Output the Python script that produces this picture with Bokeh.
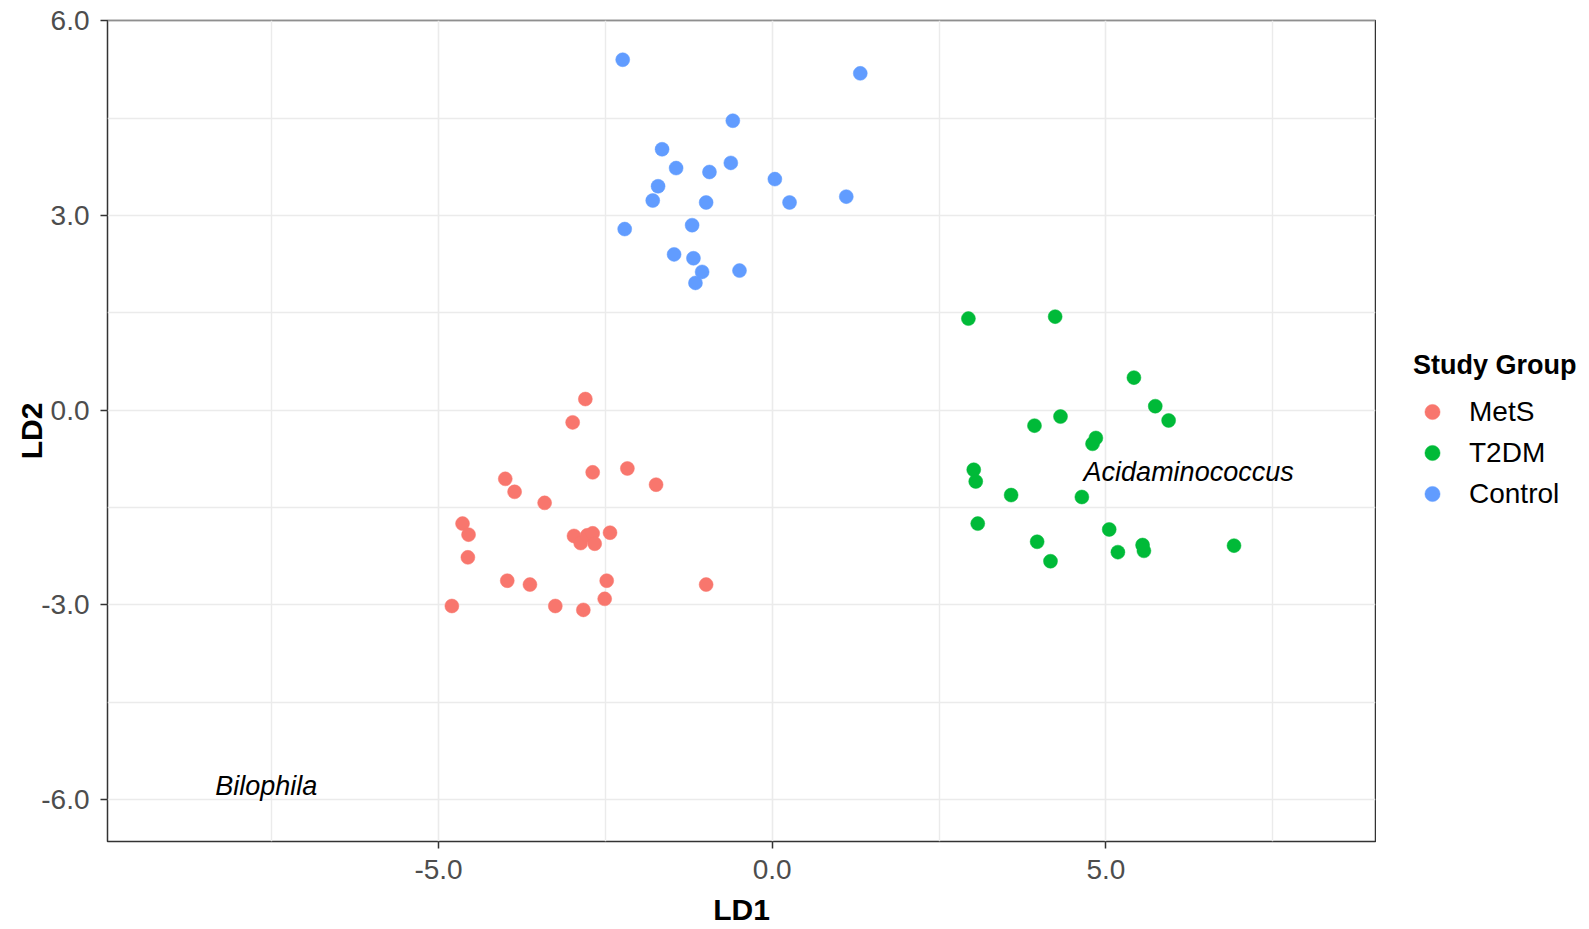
from bokeh.plotting import figure
from bokeh.layouts import row
from bokeh.models import (ColumnDataSource, Range1d, FixedTicker, PrintfTickFormatter,
                          Legend, LegendItem)
from bokeh.core.properties import value
from bokeh.embed import file_html
from bokeh.resources import INLINE

# ---------------- data ----------------
groups = ["MetS", "T2DM", "Control"]
group_colors = ["#F8766D", "#00BA38", "#619CFF"]

mets_ld1 = [-2.80, -2.99, -2.69, -2.17, -1.74, -4.00, -3.86, -3.41, -4.64, -4.55, -4.56,
            -2.97, -2.87, -2.77, -2.69, -2.66, -2.43, -3.97, -3.63, -2.48, -2.51, -0.99,
            -4.80, -3.25, -2.83]
mets_ld2 = [0.17, -0.19, -0.96, -0.90, -1.15, -1.06, -1.26, -1.43, -1.75, -1.92, -2.27,
            -1.94, -2.05, -1.93, -1.90, -2.06, -1.89, -2.63, -2.69, -2.63, -2.91, -2.69,
            -3.02, -3.02, -3.08]

t2dm_ld1 = [2.94, 4.24, 5.42, 5.74, 5.94, 3.93, 4.32, 4.85, 4.80, 3.02, 3.05, 3.58, 4.64,
            3.08, 3.97, 4.17, 5.05, 5.18, 5.55, 5.57, 6.92]
t2dm_ld2 = [1.41, 1.44, 0.50, 0.06, -0.16, -0.24, -0.10, -0.43, -0.52, -0.92, -1.10, -1.31,
            -1.34, -1.75, -2.03, -2.33, -1.84, -2.19, -2.08, -2.17, -2.09]

control_ld1 = [-2.24, 1.32, -0.59, -1.65, -1.44, -0.94, -0.62, -1.71, -1.79, -0.99, 0.04,
               0.26, 1.11, -2.21, -1.20, -1.47, -1.18, -1.05, -1.15, -0.49]
control_ld2 = [5.40, 5.19, 4.46, 4.02, 3.73, 3.67, 3.81, 3.45, 3.23, 3.20, 3.56, 3.20, 3.29,
               2.79, 2.85, 2.40, 2.34, 2.13, 1.96, 2.15]

taxa_labels = ["Bilophila", "Acidaminococcus"]
taxa_ld1 = [-7.58, 6.24]
taxa_ld2 = [-5.80, -0.95]

x_major_ticks = [-5.0, 0.0, 5.0]
x_minor_ticks = [-7.5, -2.5, 2.5, 7.5]
y_major_ticks = [-6.0, -3.0, 0.0, 3.0, 6.0]
y_minor_ticks = [-4.5, -1.5, 1.5, 4.5]

x_title = "LD1"
y_title = "LD2"
legend_title = "Study Group"

FONT = "Liberation Sans"

# ---------------- main figure ----------------
p = figure(width=1376, height=929, output_backend="svg", toolbar_location=None,
           x_range=Range1d(-9.96, 9.04), y_range=Range1d(-6.65, 6.005),
           min_border_left=107, min_border_right=1, min_border_top=20, min_border_bottom=88,
           x_axis_label=x_title, y_axis_label=y_title)

p.background_fill_color = "white"
p.border_fill_color = "white"
p.outline_line_color = "#333333"
p.outline_line_width = 1.5

xt = FixedTicker(ticks=x_major_ticks, minor_ticks=x_minor_ticks)
yt = FixedTicker(ticks=y_major_ticks, minor_ticks=y_minor_ticks)
p.xaxis.ticker = xt
p.yaxis.ticker = yt
p.xgrid.ticker = xt
p.ygrid.ticker = yt

for g in (p.xgrid, p.ygrid):
    g.grid_line_color = "#EBEBEB"
    g.grid_line_width = 1.6
    g.minor_grid_line_color = "#EBEBEB"
    g.minor_grid_line_width = 1.4

for ax in (p.xaxis, p.yaxis):
    ax.formatter = PrintfTickFormatter(format="%.1f")
    ax.axis_line_color = None
    ax.major_tick_line_color = "#333333"
    ax.major_tick_line_width = 1.5
    ax.major_tick_out = 7
    ax.major_tick_in = 0
    ax.minor_tick_line_color = None
    ax.major_label_text_font = FONT
    ax.major_label_text_font_size = "28px"
    ax.major_label_text_color = "#4D4D4D"
    ax.axis_label_text_font = FONT
    ax.axis_label_text_font_size = "30px"
    ax.axis_label_text_font_style = "bold"
    ax.axis_label_text_color = "black"

p.xaxis.major_label_standoff = 11
p.xaxis.axis_label_standoff = 11
p.yaxis.major_label_standoff = 11
p.yaxis.axis_label_standoff = -10

group_x = [mets_ld1, t2dm_ld1, control_ld1]
group_y = [mets_ld2, t2dm_ld2, control_ld2]
sources = []
for name, col, xs, ys in zip(groups, group_colors, group_x, group_y):
    src = ColumnDataSource(data=dict(x=xs, y=ys))
    sources.append(src)
    p.scatter("x", "y", source=src, size=14, fill_color=col, line_color=col,
              line_width=0.5)

p.text(x=taxa_ld1, y=taxa_ld2, text=taxa_labels, text_font=value(FONT),
       text_font_style="italic", text_font_size="27px", text_color="black",
       text_align="center", text_baseline="alphabetic")

# ---------------- legend panel (outside the plot area, like ggplot) ----------------
# The legend figure shares the group sources; its ranges lie far from the data,
# so no point is drawn there and only the legend keys are visible.
pl = figure(width=213, height=929, output_backend="svg", toolbar_location=None,
            x_range=Range1d(100, 101), y_range=Range1d(100, 101),
            x_axis_type=None, y_axis_type=None,
            min_border_left=0, min_border_right=0, min_border_top=20, min_border_bottom=88)
pl.grid.visible = False
pl.outline_line_color = None
pl.background_fill_color = "white"
pl.border_fill_color = "white"

leg_renderers = []
for name, col, src in zip(groups, group_colors, sources):
    r = pl.scatter("x", "y", source=src, size=14, fill_color=col, line_color=col,
                   line_width=0.5)
    leg_renderers.append(r)

legend = Legend(items=[LegendItem(label=n, renderers=[r]) for n, r in zip(groups, leg_renderers)],
                title=legend_title, location="left")
legend.title_text_font = FONT
legend.title_text_font_size = "27px"
legend.title_text_font_style = "bold"
legend.title_text_color = "black"
legend.title_standoff = 12
legend.label_text_font = FONT
legend.label_text_font_size = "28px"
legend.label_text_color = "black"
legend.glyph_width = 38
legend.glyph_height = 38
legend.label_height = 38
legend.label_standoff = 18
legend.spacing = 3
legend.padding = 0
legend.margin = 37
legend.border_line_color = None
legend.background_fill_alpha = 0
pl.add_layout(legend, "center")

layout = row(p, pl)
open("out.html", "w").write(file_html(layout, INLINE))
